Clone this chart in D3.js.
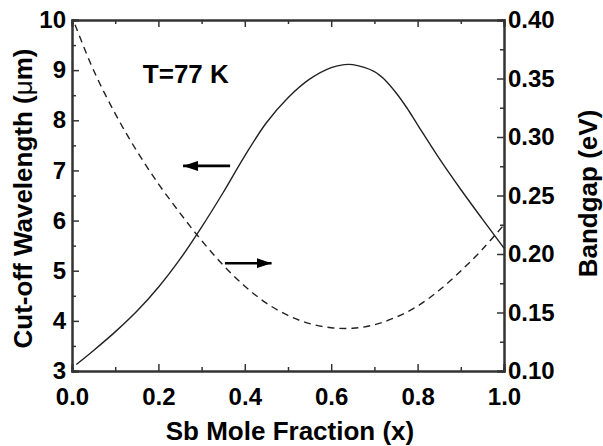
<!DOCTYPE html>
<html>
<head>
<meta charset="utf-8">
<script src="https://cdn.jsdelivr.net/npm/d3@7"></script>
<style>
  body { margin: 0; background: #fff; }
  svg text { font-family: Arial, "Liberation Sans", sans-serif; font-weight: bold; fill: #000; }
</style>
</head>
<body>
<div id="chart"></div>
<script>
// Sb mole fraction vs cut-off wavelength (solid, left axis)
const wlX = [0.01, 0.05, 0.1, 0.15, 0.2, 0.25, 0.3, 0.35, 0.4, 0.45, 0.5, 0.55, 0.6, 0.63, 0.65, 0.7, 0.725, 0.75, 0.775, 0.8, 0.85, 0.9, 0.95, 1.0];
const wlY = [3.13, 3.41, 3.78, 4.19, 4.67, 5.23, 5.87, 6.56, 7.29, 7.95, 8.45, 8.82, 9.05, 9.11, 9.11, 8.97, 8.80, 8.55, 8.25, 7.91, 7.24, 6.62, 6.03, 5.45];

// Sb mole fraction vs bandgap (dashed, right axis)
const egX = [0.007, 0.05, 0.1, 0.15, 0.2, 0.25, 0.3, 0.35, 0.4, 0.45, 0.5, 0.55, 0.6, 0.65, 0.7, 0.75, 0.8, 0.85, 0.9, 0.95, 1.0];
const egY = [0.396, 0.357, 0.320, 0.288, 0.260, 0.235, 0.2115, 0.1905, 0.1725, 0.158, 0.1475, 0.1405, 0.137, 0.1365, 0.1395, 0.146, 0.1555, 0.169, 0.1855, 0.204, 0.225];

const xTicks = [0, 0.2, 0.4, 0.6, 0.8, 1.0];
const xMinor = [0.1, 0.3, 0.5, 0.7, 0.9];
const yLeftTicks = [3, 4, 5, 6, 7, 8, 9, 10];
const yLeftMinor = [3.5, 4.5, 5.5, 6.5, 7.5, 8.5, 9.5];
const yRightTicks = [0.10, 0.15, 0.20, 0.25, 0.30, 0.35, 0.40];
const yRightMinor = [0.125, 0.175, 0.225, 0.275, 0.325, 0.375];

// annotations (data coords): arrows point to their axis
const arrowLeft = [[0.366, 7.09], [0.257, 7.09]];   // left axis units
const arrowRight = [[0.354, 5.15], [0.462, 5.15]];  // left axis units
const label = { text: "T=77 K", x: 0.164, y: 8.74 };

const W = 603, H = 446;
const margin = { top: 20, right: 99, bottom: 75, left: 72 };
const w = W - margin.left - margin.right;
const h = H - margin.top - margin.bottom;

const svg = d3.select("#chart").append("svg")
    .attr("width", W).attr("height", H);
const g = svg.append("g").attr("transform", `translate(${margin.left},${margin.top})`);

const x = d3.scaleLinear().domain([0, 1]).range([0, w]);
const yL = d3.scaleLinear().domain([3, 10]).range([h, 0]);
const yR = d3.scaleLinear().domain([0.10, 0.40]).range([h, 0]);

function styleAxis(sel) {
    sel.selectAll("path.domain").attr("stroke", "#333").attr("stroke-width", 2);
    sel.selectAll(".tick line").attr("stroke", "#333").attr("stroke-width", 1.5);
    sel.selectAll(".tick text").style("font-size", "24px").attr("fill", "#000");
}

// minor ticks first
g.append("g").attr("transform", `translate(0,${h})`)
    .call(d3.axisBottom(x).tickValues(xMinor).tickSize(-4).tickFormat("")).call(styleAxis);
g.append("g")
    .call(d3.axisTop(x).tickValues(xMinor).tickSize(-4).tickFormat("")).call(styleAxis);
g.append("g")
    .call(d3.axisLeft(yL).tickValues(yLeftMinor).tickSize(-4).tickFormat("")).call(styleAxis);
g.append("g").attr("transform", `translate(${w},0)`)
    .call(d3.axisRight(yR).tickValues(yRightMinor).tickSize(-4).tickFormat("")).call(styleAxis);

// major
g.append("g").attr("transform", `translate(0,${h})`)
    .call(d3.axisBottom(x).tickValues(xTicks).tickSize(-7).tickPadding(17).tickFormat(d3.format(".1f")))
    .call(styleAxis);
g.append("g")
    .call(d3.axisTop(x).tickValues(xTicks).tickSize(-7).tickFormat(""))
    .call(styleAxis);
g.append("g")
    .call(d3.axisLeft(yL).tickValues(yLeftTicks).tickSize(-7).tickPadding(6).tickFormat(d3.format("d")))
    .call(styleAxis);
g.append("g").attr("transform", `translate(${w},0)`)
    .call(d3.axisRight(yR).tickValues(yRightTicks).tickSize(-7).tickPadding(4).tickFormat(d3.format(".2f")))
    .call(styleAxis);

// curves
const wl = wlX.map((v, i) => [v, wlY[i]]);
const eg = egX.map((v, i) => [v, egY[i]]);

g.append("path")
    .datum(wl)
    .attr("fill", "none")
    .attr("stroke", "#222")
    .attr("stroke-width", 1.4)
    .attr("d", d3.line().x(d => x(d[0])).y(d => yL(d[1])).curve(d3.curveCatmullRom));

g.append("path")
    .datum(eg)
    .attr("fill", "none")
    .attr("stroke", "#222")
    .attr("stroke-width", 1.4)
    .attr("stroke-dasharray", "7,5")
    .attr("d", d3.line().x(d => x(d[0])).y(d => yR(d[1])).curve(d3.curveCatmullRom));

// arrows
svg.append("defs").append("marker")
    .attr("id", "head")
    .attr("viewBox", "0 0 15 10")
    .attr("refX", 15).attr("refY", 5)
    .attr("markerWidth", 15).attr("markerHeight", 10)
    .attr("markerUnits", "userSpaceOnUse")
    .attr("orient", "auto")
    .append("path").attr("d", "M0,0L15,5L0,10Z").attr("fill", "#000");

[arrowLeft, arrowRight].forEach(a => {
    g.append("line")
        .attr("x1", x(a[0][0])).attr("y1", yL(a[0][1]))
        .attr("x2", x(a[1][0])).attr("y2", yL(a[1][1]))
        .attr("stroke", "#000").attr("stroke-width", 2.6)
        .attr("marker-end", "url(#head)");
});

g.append("text")
    .attr("x", x(label.x)).attr("y", yL(label.y))
    .style("font-size", "26px")
    .text(label.text);

// axis titles
svg.append("text")
    .attr("x", margin.left + w / 2 + 2).attr("y", 440)
    .attr("text-anchor", "middle")
    .style("font-size", "26px")
    .text("Sb Mole Fraction (x)");

const lt = svg.append("text")
    .attr("transform", `translate(32,${margin.top + h / 2 + 3}) rotate(-90)`)
    .attr("text-anchor", "middle")
    .style("font-size", "26px");
lt.append("tspan").text("Cut-off Wavelength (");
lt.append("tspan").style("font-weight", "normal").text("\u03bc");
lt.append("tspan").text("m)");

svg.append("text")
    .attr("transform", `translate(597,${margin.top + h / 2 - 2}) rotate(-90)`)
    .attr("text-anchor", "middle")
    .style("font-size", "26px")
    .text("Bandgap (eV)");
</script>
</body>
</html>
